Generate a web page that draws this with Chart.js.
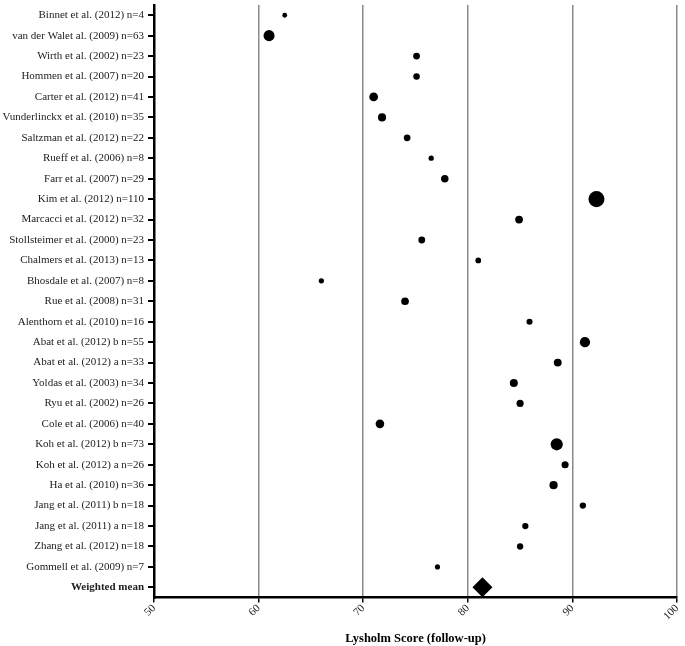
<!DOCTYPE html>
<html lang="en">
<head>
    <meta charset="UTF-8" />
    <title>Lysholm Score (follow-up)</title>
    <script src="https://cdn.jsdelivr.net/npm/chart.js"></script>
    <style>
        body { margin: 0; background: #fff; }
        #wrap { width: 685px; height: 646px; }
    </style>
</head>
<body>
    <div id="wrap"><canvas id="grafico" width="685" height="646"></canvas></div>

    <script>
        // estudios (de arriba hacia abajo)
        const estudios = [
            "Binnet et al. (2012) n=4",
            "van der Walet al. (2009) n=63",
            "Wirth et al. (2002) n=23",
            "Hommen et al. (2007) n=20",
            "Carter et al. (2012) n=41",
            "Vunderlinckx et al. (2010) n=35",
            "Saltzman et al. (2012) n=22",
            "Rueff et al. (2006) n=8",
            "Farr et al. (2007) n=29",
            "Kim et al. (2012) n=110",
            "Marcacci et al. (2012) n=32",
            "Stollsteimer et al. (2000) n=23",
            "Chalmers et al. (2013) n=13",
            "Bhosdale et al. (2007) n=8",
            "Rue et al. (2008) n=31",
            "Alenthorn et al. (2010) n=16",
            "Abat et al. (2012) b n=55",
            "Abat et al. (2012) a n=33",
            "Yoldas et al. (2003) n=34",
            "Ryu et al. (2002) n=26",
            "Cole et al. (2006) n=40",
            "Koh et al. (2012) b n=73",
            "Koh et al. (2012) a n=26",
            "Ha et al. (2010) n=36",
            "Jang et al. (2011) b n=18",
            "Jang et al. (2011) a n=18",
            "Zhang et al. (2012) n=18",
            "Gommell et al. (2009) n=7"
        ];
        const pacientes = [4, 63, 23, 20, 41, 35, 22, 8, 29, 110, 32, 23, 13, 8, 31, 16, 55, 33, 34, 26, 40, 73, 26, 36, 18, 18, 18, 7];
        const puntajes = [62.5, 61.0, 75.1, 75.1, 71.0, 71.8, 74.2, 76.5, 77.8, 92.3, 84.9, 75.6, 81.0, 66.0, 74.0,
                          85.9, 91.2, 88.6, 84.4, 85.0, 71.6, 88.5, 89.3, 88.2, 91.0, 85.5, 85.0, 77.1];
        const etiquetaMedia = "Weighted mean";
        const mediaPonderada = 81.4;
        const ejeX = { min: 50, max: 100, paso: 10 };

        const categorias = estudios.concat([etiquetaMedia]);
        const serif = "'Liberation Serif', 'DejaVu Serif', serif";

        const ctx = document.getElementById('grafico').getContext('2d');
        new Chart(ctx, {
            type: 'scatter',
            data: {
                datasets: [
                    {
                        label: 'Estudios',
                        data: estudios.map((e, i) => ({ x: puntajes[i], y: e })),
                        backgroundColor: '#000',
                        borderWidth: 0,
                        pointRadius: c => 2.2 + 0.053 * pacientes[c.dataIndex]
                    },
                    {
                        label: etiquetaMedia,
                        data: [{ x: mediaPonderada, y: etiquetaMedia }],
                        backgroundColor: '#000',
                        borderWidth: 0,
                        pointStyle: 'rectRot',
                        pointRadius: 10
                    }
                ]
            },
            options: {
                responsive: false,
                animation: false,
                events: [],
                layout: { autoPadding: false, padding: { top: 5, right: 8, bottom: 0, left: 0 } },
                plugins: { legend: { display: false }, tooltip: { enabled: false } },
                scales: {
                    x: {
                        type: 'linear',
                        min: ejeX.min,
                        max: ejeX.max,
                        afterFit: s => {
                            s.paddingLeft = 0;
                            s.paddingRight = 0;
                        },
                        ticks: {
                            stepSize: ejeX.paso,
                            minRotation: 45,
                            maxRotation: 45,
                            color: '#222',
                            padding: 0,
                            font: { family: serif, size: 11, lineHeight: 1 }
                        },
                        grid: { color: '#8a8a8a', lineWidth: 1.5, tickColor: '#000', tickLength: 5 },
                        border: { color: '#000', width: 2.5 },
                        title: {
                            display: true,
                            text: 'Lysholm Score (follow-up)',
                            color: '#000',
                            padding: { top: 9, bottom: 0 },
                            font: { family: serif, size: 12.5, weight: 'bold' }
                        }
                    },
                    y: {
                        type: 'category',
                        labels: categorias,
                        offset: true,
                        afterFit: s => {
                            s.width = 154;
                            s.paddingTop = 0;
                            s.paddingBottom = 0;
                        },
                        ticks: {
                            color: '#222',
                            padding: 4,
                            font: c => ({
                                family: serif,
                                size: 11,
                                weight: categorias[c.index] === etiquetaMedia ? 'bold' : 'normal'
                            })
                        },
                        grid: { drawOnChartArea: false, color: '#000', lineWidth: 2, tickLength: 6 },
                        border: { color: '#000', width: 2.5 }
                    }
                }
            }
        });
    </script>
</body>
</html>
